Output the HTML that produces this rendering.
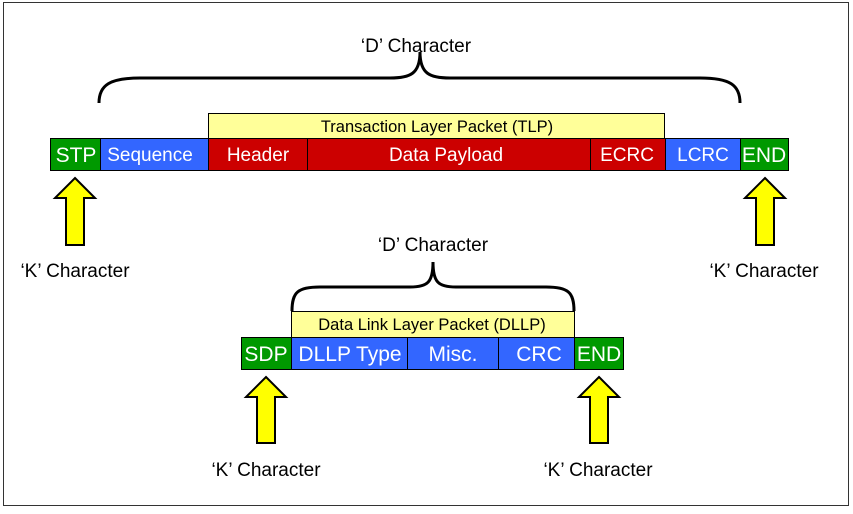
<!DOCTYPE html>
<html><head><style>
body{margin:0;background:#fff;}
svg text{font-family:"Liberation Sans",Arial,sans-serif;}
</style></head><body>
<svg width="853" height="509" viewBox="0 0 853 509" xmlns="http://www.w3.org/2000/svg">
<rect x="3.5" y="2.5" width="845" height="503" fill="#fff" stroke="#333" stroke-width="1"/>
<g stroke="#000" stroke-width="3" fill="none">
<path d="M99,103 C99,85 110,78 140,78 L390,78 C410,78 420,74 420,52 C420,74 430,78 450,78 L700,78 C730,78 740,85 740,103"/>
<path d="M292,311 C292,292 298,287 320,287 L410,287 C428,287 433,282 433,262 C433,282 438,287 456,287 L546,287 C568,287 574,292 574,311"/>
</g>
<text x="416" y="52" font-size="19" text-anchor="middle">‘D’ Character</text>
<text x="433" y="251" font-size="19" text-anchor="middle">‘D’ Character</text>
<g stroke="#000" stroke-width="1">
<rect x="208.5" y="113.5" width="456" height="25" fill="#ffff99"/>
<rect x="50.5" y="138.5" width="50" height="32" fill="#009900"/>
<rect x="100.5" y="138.5" width="108" height="32" fill="#3366ff"/>
<rect x="208.5" y="138.5" width="99" height="32" fill="#cc0000"/>
<rect x="307.5" y="138.5" width="283" height="32" fill="#cc0000"/>
<rect x="590.5" y="138.5" width="75" height="32" fill="#cc0000"/>
<rect x="665.5" y="138.5" width="75" height="32" fill="#3366ff"/>
<rect x="740.5" y="138.5" width="48" height="32" fill="#009900"/>
<rect x="291.5" y="311.5" width="283" height="26" fill="#ffff99"/>
<rect x="241.5" y="337.5" width="50" height="32" fill="#009900"/>
<rect x="291.5" y="337.5" width="116" height="32" fill="#3366ff"/>
<rect x="407.5" y="337.5" width="91" height="32" fill="#3366ff"/>
<rect x="498.5" y="337.5" width="76" height="32" fill="#3366ff"/>
<rect x="574.5" y="337.5" width="49" height="32" fill="#009900"/>
</g>
<text x="437" y="132" font-size="16.5" text-anchor="middle">Transaction Layer Packet (TLP)</text>
<text x="432" y="330" font-size="16.5" text-anchor="middle">Data Link Layer Packet (DLLP)</text>
<g fill="#fff" font-size="21" text-anchor="middle">
<text x="76" y="162">STP</text>
<text x="150" y="161" font-size="19">Sequence</text>
<text x="258" y="161" font-size="19">Header</text>
<text x="446" y="161" font-size="19">Data Payload</text>
<text x="627" y="161" font-size="19">ECRC</text>
<text x="703" y="161" font-size="19">LCRC</text>
<text x="764" y="162">END</text>
<text x="266" y="361">SDP</text>
<text x="350" y="361">DLLP Type</text>
<text x="453" y="361">Misc.</text>
<text x="539" y="361">CRC</text>
<text x="599" y="361">END</text>
</g>
<g fill="#ffff00" stroke="#000" stroke-width="2">
<path d="M75,178 L95,198 L84,198 L84,245 L66,245 L66,198 L55,198 Z"/>
<path d="M765,178 L785,198 L774,198 L774,245 L756,245 L756,198 L745,198 Z"/>
<path d="M266,377 L286,397 L275,397 L275,443 L257,443 L257,397 L246,397 Z"/>
<path d="M599,377 L619,397 L608,397 L608,443 L590,443 L590,397 L579,397 Z"/>
</g>
<g font-size="19" text-anchor="middle">
<text x="75" y="277">‘K’ Character</text>
<text x="764" y="277">‘K’ Character</text>
<text x="266" y="476">‘K’ Character</text>
<text x="598" y="476">‘K’ Character</text>
</g>
</svg>
</body></html>
